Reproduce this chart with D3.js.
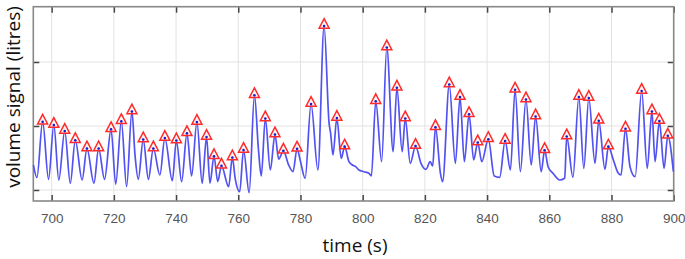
<!DOCTYPE html>
<html><head><meta charset="utf-8">
<script src="https://cdn.jsdelivr.net/npm/d3@7"></script>
<style>html,body{margin:0;padding:0;background:#fff;}svg{display:block;}</style>
</head><body>
<svg id="c" width="685" height="259"></svg>
<script>
// Breath peaks (time in s, volume signal)
const peakTime = [697.1,700.7,704.2,707.6,711.35,715.1,719.1,722.4,725.8,729.45,732.7,736.4,740.1,743.5,746.7,749.8,752.2,754.6,758.1,761.7,765.2,768.7,771.8,774.5,778.9,783.4,787.6,791.7,794.2,804.2,807.75,811.0,813.7,817.0,823.4,827.85,831.3,834.2,837.0,840.4,845.8,849.0,852.5,855.6,858.5,865.6,869.5,872.7,875.9,879.0,884.5,889.7,893.0,895.4,898.1];
const peakVolume = [1.067,1.016,0.922,0.777,0.648,0.648,0.948,1.075,1.227,0.789,0.648,0.8125,0.773,0.886,1.0625,0.828,0.527,0.378,0.508,0.625,1.481,1.117,0.867,0.6125,0.644,1.344,2.5625,1.125,0.677,1.386,2.227,1.597,1.117,0.6875,0.981,1.648,1.453,1.183,0.742,0.794,0.766,1.566,1.414,1.148,0.622,0.836,1.453,1.4375,1.083,0.677,0.958,1.547,1.227,1.078,0.847];
// Remaining signal samples (troughs and shoulders)
const otherTime = [694.15,695.27,699.0,702.3,706.0,709.8,713.6,717.0,720.6,724.1,726.8,727.85,731.1,734.8,738.8,741.8,745.0,748.4,750.9,753.4,756.9,759.0,760.45,763.5,766.5,767.4,770.3,773.0,776.2,777.6,779.9,781.5,785.6,789.2,789.7,790.45,793.1,795.6,796.7,797.75,798.8,800.4,802.0,802.8,806.1,809.8,812.7,815.3,818.75,820.35,821.7,822.5,825.0,825.7,829.8,832.7,835.7,838.3,842.3,844.05,847.5,850.7,854.2,857.4,859.6,861.2,863.3,864.95,867.6,871.1,874.7,877.9,880.6,882.2,883.05,885.95,887.6,891.5,894.0,896.9,899.9];
const otherVolume = [0.39,0.195,0.167,0.156,0.105,0.156,0.105,0.167,0.089,0.052,0.547,0.167,0.167,0.234,0.145,0.130,0.219,0.105,0.105,0.130,0.052,0.183,-0.027,-0.042,0.625,0.219,0.3125,0.480,0.391,0.286,0.469,0.183,0.3125,1.042,0.886,0.547,0.495,0.442,0.391,0.364,0.3125,0.286,0.261,0.219,0.442,0.598,0.598,0.417,0.417,0.323,0.442,0.375,0.261,0.130,0.417,0.442,0.469,0.442,0.219,0.198,0.3125,0.286,0.391,0.286,0.364,0.261,0.156,0.183,0.198,0.339,0.417,0.323,0.469,0.261,0.234,0.364,0.208,0.339,0.442,0.339,0.286];
const xTicks = [700,720,740,760,780,800,820,840,860,880,900];
const yTicks = [0,1,2];

const L = 33.3, R = 673.7, T = 6.7, B = 201;
const svg = d3.select("#c");
const x = d3.scaleLinear().domain([694.1, 900]).range([L, R]);
const y = d3.scaleLinear().domain([-0.172, 2.864]).range([B, T]);

const signal = peakTime.map((t,i)=>({t, v:peakVolume[i]}))
  .concat(otherTime.map((t,i)=>({t, v:otherVolume[i]})))
  .sort((a,b)=>a.t-b.t);

// grid
svg.append("g").selectAll("line").data(xTicks).join("line")
  .attr("x1", d=>x(d)).attr("x2", d=>x(d)).attr("y1", T).attr("y2", B)
  .attr("stroke", "#e2e2e2").attr("stroke-width", 1);
svg.append("g").selectAll("line").data(yTicks).join("line")
  .attr("x1", L).attr("x2", R).attr("y1", d=>y(d)).attr("y2", d=>y(d))
  .attr("stroke", "#e2e2e2").attr("stroke-width", 1);

// axes with inward ticks
const ax = (g) => g.selectAll(".domain").remove();
svg.append("g").attr("transform", `translate(0,${B})`)
  .call(d3.axisBottom(x).tickValues(xTicks).tickSize(-6).tickPadding(12).tickFormat(d3.format("d")))
  .call(ax)
  .call(g=>g.selectAll("line").attr("stroke","#444").attr("stroke-width",1.5))
  .call(g=>g.selectAll("text").attr("fill","#555").attr("font-family","Liberation Sans, Arial, sans-serif").attr("font-size",13.5));
svg.append("g").attr("transform", `translate(0,${T})`)
  .call(d3.axisTop(x).tickValues(xTicks).tickSize(-6).tickFormat(""))
  .call(ax)
  .call(g=>g.selectAll("line").attr("stroke","#444").attr("stroke-width",1.5));
svg.append("g").attr("transform", `translate(${L},0)`)
  .call(d3.axisLeft(y).tickValues(yTicks).tickSize(-6).tickFormat(""))
  .call(ax)
  .call(g=>g.selectAll("line").attr("stroke","#444").attr("stroke-width",1.5));
svg.append("g").attr("transform", `translate(${R},0)`)
  .call(d3.axisRight(y).tickValues(yTicks).tickSize(-6).tickFormat(""))
  .call(ax)
  .call(g=>g.selectAll("line").attr("stroke","#444").attr("stroke-width",1.5));

// frame
svg.append("rect").attr("x", L).attr("y", T).attr("width", R-L).attr("height", B-T)
  .attr("fill","none").attr("stroke","#888").attr("stroke-width",1.6);

// signal
const line = d3.line().x(d=>x(d.t)).y(d=>y(d.v)).curve(d3.curveMonotoneX);
svg.append("path").datum(signal).attr("d", line)
  .attr("fill","none").attr("stroke","#5252f2").attr("stroke-width",1.7).attr("stroke-linejoin","round");

// peak markers
const peaks = peakTime.map((t,i)=>({t, v:peakVolume[i]}));
const tri = "M0,-7.4L5,2.2L-5,2.2Z";
svg.append("g").selectAll("path").data(peaks).join("path")
  .attr("transform", d=>`translate(${x(d.t)},${y(d.v)})`)
  .attr("d", tri).attr("fill","rgba(255,235,235,0.5)").attr("stroke","#ff2a2a").attr("stroke-width",1.5);
svg.append("g").selectAll("circle").data(peaks).join("circle")
  .attr("cx", d=>x(d.t)).attr("cy", d=>y(d.v)).attr("r",1.3).attr("fill","#1a1acc");

// axis titles
svg.append("text").attr("x", 355).attr("y", 252).attr("text-anchor","middle")
  .attr("font-family","Open Sans, sans-serif").attr("font-size",19).attr("fill","#111").text("time (s)");
svg.append("text").attr("transform","translate(20,97) rotate(-90)").attr("text-anchor","middle")
  .attr("font-family","Open Sans, sans-serif").attr("font-size",19).attr("fill","#111").text("volume signal (litres)");
</script>
</body></html>
